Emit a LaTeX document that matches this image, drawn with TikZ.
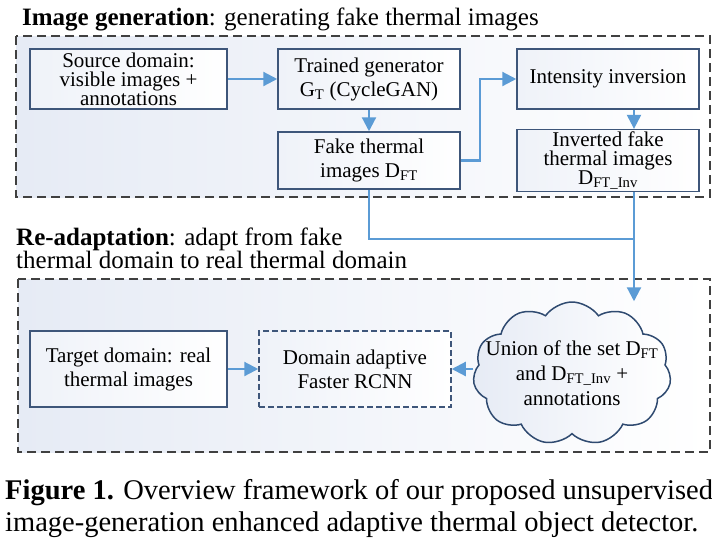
\documentclass[tikz,border=0pt]{standalone}
\usepackage{fontspec}
\setmainfont{Liberation Serif}
\usetikzlibrary{arrows.meta,shapes.symbols}

\definecolor{arrowblue}{RGB}{91,155,213}
\definecolor{boxline}{RGB}{62,86,122}
\definecolor{boxfill}{RGB}{230,235,245}
\definecolor{grpline}{RGB}{64,64,64}
\definecolor{cloudline}{RGB}{47,74,112}

\tikzset{
  stage/.style={draw=boxline, line width=1.5pt, left color=boxfill!65,
    right color=white, align=center, inner sep=2pt,
    font=\fontsize{21}{24}\selectfont},
  group/.style={draw=grpline, line width=1.3pt,
    dash pattern=on 9pt off 5pt, left color=boxfill, right color=white},
  flow/.style={draw=arrowblue, line width=2.2pt},
}

\begin{document}
\begin{tikzpicture}[>={Triangle[length=14pt,width=14pt]}, x=1pt, y=-1pt]
      \useasboundingbox (0,0) rectangle (712,542);
      % the two stages
      \draw [group] (16,36) rectangle (710,197);
      \draw [group] (18,279) rectangle (710,452);
      \node [anchor=base west, inner sep=0, font=\fontsize{25}{23}\selectfont]
      (TITLEGEN) at (22,25) {\textbf{Image generation}: generating fake
      thermal images};
      \node [anchor=north west, inner sep=0, align=left,
      font=\fontsize{25}{23}\selectfont] (TITLEADA) at (16,228)
      {\textbf{Re-adaptation}: adapt from fake\\thermal domain to real thermal
      domain};
      %
      \node [stage, minimum width=197pt, minimum height=60pt,
      font=\fontsize{21}{19}\selectfont] (SRC) at (128.5,79)
      {Source domain:\\visible images +\\annotations};
      \node [stage, minimum width=182pt, minimum height=60pt] (GEN) at
      (369,79) {Trained generator\\G\textsubscript{T} (CycleGAN)};
      \node [stage, minimum width=182pt, minimum height=60pt] (INV) at
      (608,79) {Intensity inversion};
      \node [stage, minimum width=182pt, minimum height=57pt] (FAKE) at
      (369,160.5) {Fake thermal\\images D\textsubscript{FT}};
      \node [stage, minimum width=182pt, minimum height=57pt,
      font=\fontsize{21}{19}\selectfont] (FAKEINV) at (608,160.5)
      {Inverted fake\\thermal images\\D\textsubscript{FT\_Inv}};
      %
      \node [stage, minimum width=197pt, minimum height=76pt] (TGT) at
      (128.5,369) {Target domain: real\\thermal images};
      \node [stage, dash pattern=on 6pt off 3pt, minimum width=192pt,
      minimum height=76pt] (DAF) at (355,369) {Domain adaptive\\Faster RCNN};
      \node [cloud, cloud puffs=11, cloud puff arc=110, cloud ignores aspect,
      minimum width=198pt, minimum height=143pt, draw=cloudline,
      line width=1.5pt, left color=boxfill, right color=white] (UNION) at
      (572,373.5) {};
      \node [align=center, font=\fontsize{21}{25}\selectfont] (UNIONTXT) at
      (UNION.center) {Union of the set D\textsubscript{FT}\\and
      D\textsubscript{FT\_Inv} +\\annotations};
      %
      \draw [flow,->] (SRC) -- (GEN);
      \draw [flow,->] (GEN) -- (FAKE);
      \draw [flow,->] (FAKE.east) -- ++(19,0) |- (INV.west);
      \draw [flow,->] ([xshift=26pt]INV.south) -- ([xshift=26pt]FAKEINV.north);
      \coordinate (DROP) at ([xshift=26pt]FAKEINV.south);
      \coordinate (JOIN) at (DROP |- 0,239);
      \draw [flow] (FAKE.south) |- (JOIN);
      \draw [flow,->] (DROP) -- (DROP |- UNION.north);
      \draw [flow,->] (TGT) -- (DAF);
      \draw [flow,->] (UNION.west |- DAF.east) -- (DAF.east);
      %
      \node [anchor=north west, inner sep=0, align=left,
      font=\fontsize{28.5}{32}\selectfont] (CAPTION) at (5,479)
      {\textbf{Figure 1.} Overview framework of our proposed
      unsupervised\\image-generation enhanced adaptive thermal object
      detector.};
    \end{tikzpicture}
\end{document}
